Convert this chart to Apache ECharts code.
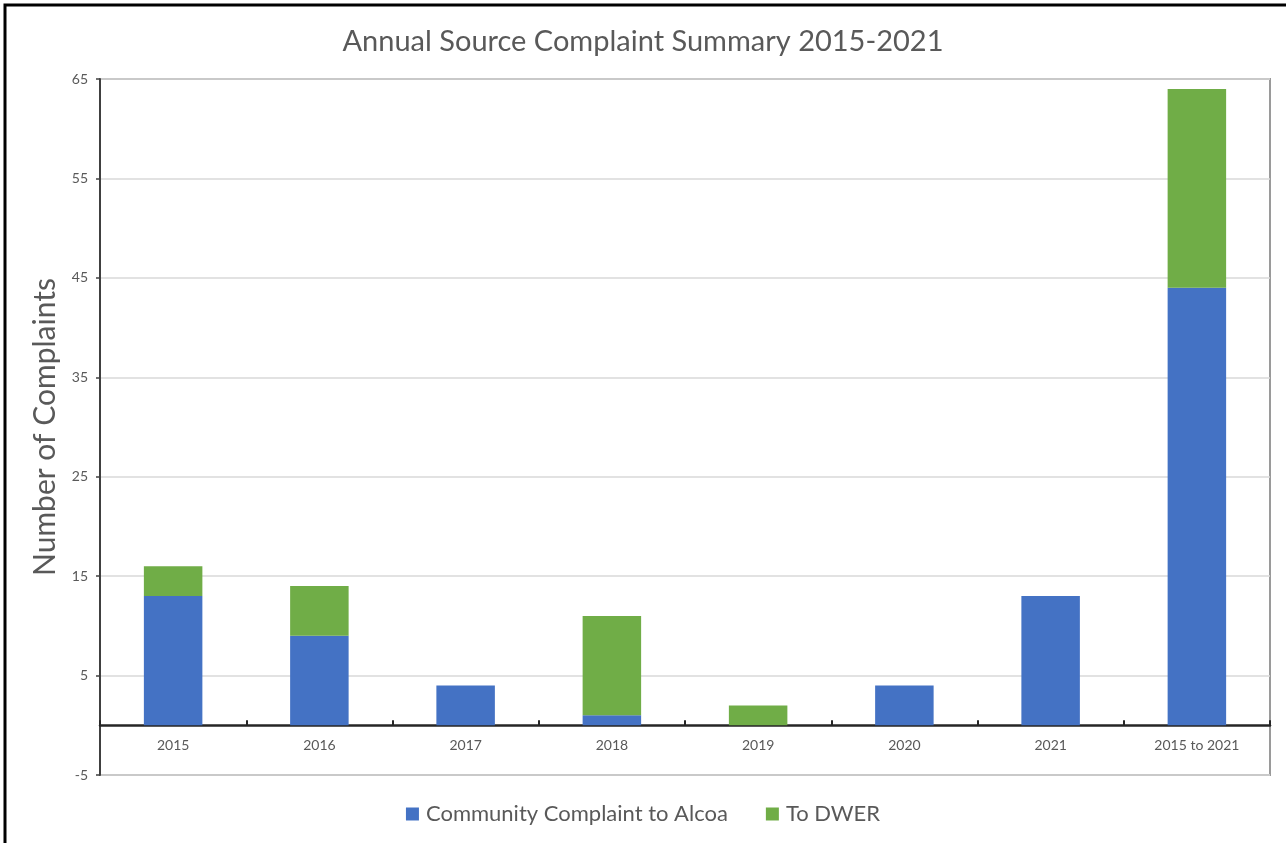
<!DOCTYPE html>
<html>
<head>
<meta charset="utf-8">
<title>Annual Source Complaint Summary 2015-2021</title>
<script src="https://cdn.jsdelivr.net/npm/echarts@6/dist/echarts.min.js"></script>
<style>
  html, body { margin: 0; padding: 0; background: #ffffff; }
  #chart { width: 1286px; height: 843px; }
</style>
</head>
<body>
<div id="chart"></div>
<script>
// Complaint counts per year, plus the seven-year total
const categories = ['2015', '2016', '2017', '2018', '2019', '2020', '2021', '2015 to 2021'];
const communityToAlcoa = [13, 9, 4, 1, 0, 4, 13, 44];
const toDWER = [3, 5, 0, 10, 2, 0, 0, 20];
const seriesNames = ['Community Complaint to Alcoa', 'To DWER'];
const chartTitle = 'Annual Source Complaint Summary 2015-2021';
const yAxisTitle = 'Number of Complaints';

const FONT = 'Lato, "Open Sans", sans-serif';
const TEXT = '#595959';

const chart = echarts.init(document.getElementById('chart'));
chart.setOption({
  backgroundColor: '#ffffff',
  animation: false,
  title: {
    text: chartTitle,
    left: 'center',
    top: 22,
    textStyle: { fontFamily: FONT, fontSize: 29, fontWeight: 'normal', color: TEXT }
  },
  legend: {
    bottom: 13,
    left: 'center',
    itemWidth: 13,
    itemHeight: 13,
    itemGap: 38,
    icon: 'rect',
    textStyle: { fontFamily: FONT, fontSize: 22, color: TEXT, padding: [0, 0, 0, 2] },
    data: seriesNames
  },
  grid: {
    left: 100,
    right: 16,
    top: 79,
    bottom: 68,
    show: true,
    borderColor: '#9a9a9a',
    borderWidth: 2,
    containLabel: false
  },
  xAxis: {
    type: 'category',
    data: categories,
    axisLine: { onZero: true, lineStyle: { color: '#262626', width: 2.5 } },
    axisTick: { show: true, inside: true, length: 5, alignWithLabel: false, lineStyle: { color: '#262626', width: 2 } },
    // labels sit just under the zero line, inside the plot area
    axisLabel: { fontFamily: FONT, fontSize: 14, color: TEXT, margin: -37 },
    splitLine: { show: false }
  },
  yAxis: {
    type: 'value',
    min: -5,
    max: 65,
    interval: 10,
    name: yAxisTitle,
    nameLocation: 'middle',
    nameGap: 40,
    nameTextStyle: { fontFamily: FONT, fontSize: 30, color: TEXT },
    axisLine: { show: true, lineStyle: { color: '#404040', width: 2 } },
    axisTick: { show: true, length: 4, lineStyle: { color: '#404040', width: 1.5 } },
    axisLabel: { fontFamily: FONT, fontSize: 14, color: TEXT, margin: 12 },
    splitLine: { show: true, lineStyle: { color: '#d9d9d9', width: 1.5 } }
  },
  series: [
    {
      name: seriesNames[0],
      type: 'bar',
      stack: 'complaints',
      data: communityToAlcoa,
      barWidth: '40%',
      itemStyle: { color: '#4472c4' }
    },
    {
      name: seriesNames[1],
      type: 'bar',
      stack: 'complaints',
      data: toDWER,
      barWidth: '40%',
      itemStyle: { color: '#70ad47' }
    }
  ],
  graphic: [
    {
      type: 'rect',
      silent: true,
      z: 100,
      shape: { x: 5, y: 5, width: 1300, height: 860 },
      style: { fill: 'none', stroke: '#000000', lineWidth: 3 }
    }
  ]
});
</script>
</body>
</html>
